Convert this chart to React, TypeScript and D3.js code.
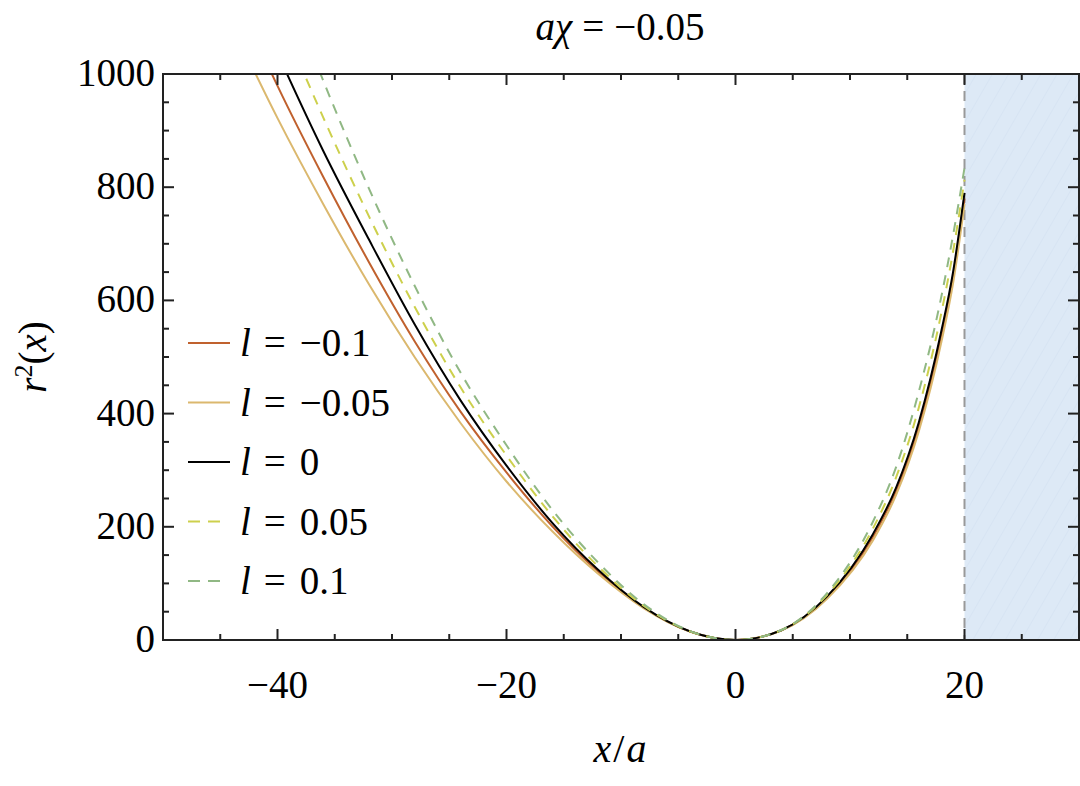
import React from 'react';
import * as d3 from 'd3';

const xs = [-44, -40, -36, -32, -28, -24, -20, -16, -12, -8, -4, 0, 4, 8, 12, 14, 16, 18, 19, 20];
const rLm10 = [1156, 979, 818, 667, 527, 403, 296, 201, 121, 57, 15.2, 0, 17, 75, 182, 262, 376, 538, 640, 780];
const rLm05 = [1088, 922, 770, 628, 499, 383, 280, 192, 117, 56, 15, 0, 16.8, 73, 176, 255, 368, 528, 630, 770];
const rL0 = [1220, 1037, 864, 707, 557, 423, 308, 207, 124, 58, 15.4, 0, 17.3, 77, 187, 268, 384, 548, 650, 790];
const rLp05 = [1316, 1112, 923, 748, 588, 446, 326, 219, 130, 60, 15.5, 0, 17.4, 80, 197, 286, 410, 580, 686, 813];
const rLp10 = [1423, 1197, 988, 797, 625, 472, 344, 230, 137, 63, 16, 0, 17.6, 83, 209, 304, 438, 609, 715, 834];

const legendValues = ['\u22120.1', '\u22120.05', '0', '0.05', '0.1'];
const xTicks = [-40, -20, 0, 20];
const yTicks = [0, 200, 400, 600, 800, 1000];
const horizon = 20;

const W = 1080;
const H = 786;
const left = 163, right = 1079, top = 74, bottom = 640;
const FONT = "'Liberation Serif', 'DejaVu Serif', serif";

const App = () => {
	const x = d3.scaleLinear().domain([-50, 30]).range([left, right]);
	const y = d3.scaleLinear().domain([0, 1000]).range([bottom, top]);

	const series = [
		{ vals: rLm10, color: '#c0612e', dash: null },
		{ vals: rLm05, color: '#dbb86e', dash: null },
		{ vals: rL0, color: '#000000', dash: null },
		{ vals: rLp05, color: '#cdd04c', dash: '10 8' },
		{ vals: rLp10, color: '#90b884', dash: '10 8' },
	];

	const line = d3.line<number>()
		.x((_, i) => x(xs[i]))
		.y((d) => y(d))
		.curve(d3.curveMonotoneX);

	const xMinor = d3.range(-50, 31, 5);
	const yMinor = d3.range(0, 1001, 50);

	return (
		<svg width={ W } height={ H }
			style={{ position: 'absolute', left: 0, top: 0, background: '#fff', fontFamily: FONT }}>
			<defs>
				<clipPath id="plot">
					<rect x={ left } y={ top } width={ right - left } height={ bottom - top }/>
				</clipPath>
				<pattern id="hatch" width="14" height="14" patternUnits="userSpaceOnUse"
					patternTransform="rotate(30)">
					<rect width="14" height="14" fill="#dde9f6"/>
					<line x1="0" y1="0" x2="0" y2="14" stroke="#d2e0f0" strokeWidth="1"/>
				</pattern>
			</defs>

			{/* excluded region */}
			<rect x={ x(horizon) } y={ top } width={ x(30) - x(horizon) } height={ bottom - top }
				fill="url(#hatch)"/>
			<line x1={ x(horizon) } x2={ x(horizon) } y1={ top } y2={ bottom }
				stroke="#999" strokeWidth={ 2 } strokeDasharray="10 7"/>

			<g clipPath="url(#plot)">
				{ series.map((s, i) => (
					<path key={ i } d={ line(s.vals) || '' } fill="none" stroke={ s.color }
						strokeWidth={ 2 } strokeDasharray={ s.dash || undefined }/>
				)) }
			</g>

			{/* frame and ticks */}
			<g stroke="#222" strokeWidth={ 2 }>
				<rect x={ left } y={ top } width={ right - left } height={ bottom - top } fill="none"/>
				{ xMinor.map((v) => {
					const len = xTicks.includes(v) ? 11 : 6;
					return (
						<g key={ 'x' + v }>
							<line x1={ x(v) } x2={ x(v) } y1={ bottom } y2={ bottom - len }/>
							<line x1={ x(v) } x2={ x(v) } y1={ top } y2={ top + len }/>
						</g>
					);
				}) }
				{ yMinor.map((v) => {
					const len = yTicks.includes(v) ? 11 : 6;
					return (
						<g key={ 'y' + v }>
							<line x1={ left } x2={ left + len } y1={ y(v) } y2={ y(v) }/>
							<line x1={ right } x2={ right - len } y1={ y(v) } y2={ y(v) }/>
						</g>
					);
				}) }
			</g>

			<g fontSize={ 39 } fill="#000">
				{ xTicks.map((v) => (
					<text key={ v } x={ x(v) } y={ 698 } textAnchor="middle">
						{ v < 0 ? '\u2212' + Math.abs(v) : String(v) }
					</text>
				)) }
				{ yTicks.map((v) => (
					<text key={ v } x={ 155 } y={ y(v) + 12 } textAnchor="end">{ v }</text>
				)) }
			</g>

			{/* title and axis labels */}
			<text x={ 620 } y={ 40 } textAnchor="middle" fontSize={ 39 }>
				<tspan fontStyle="italic">aχ</tspan>
				<tspan dx={ 10 }>=</tspan>
				<tspan dx={ 10 }>{ '\u2212' }0.05</tspan>
			</text>
			<text x={ 620 } y={ 762 } textAnchor="middle" fontSize={ 40 }>
				<tspan fontStyle="italic">x</tspan>
				<tspan dx={ 2 }>/</tspan>
				<tspan fontStyle="italic" dx={ 2 }>a</tspan>
			</text>
			<text transform={ `translate(46, ${ (top + bottom) / 2 }) rotate(-90)` } textAnchor="middle"
				fontSize={ 39 }>
				<tspan fontStyle="italic">r</tspan>
				<tspan fontSize={ 26 } dy={ -14 }>2</tspan>
				<tspan dy={ 14 }>(</tspan>
				<tspan fontStyle="italic">x</tspan>
				<tspan>)</tspan>
			</text>

			{/* legend */}
			<g fontSize={ 39 }>
				{ series.map((s, i) => {
					const ly = 343 + i * 59.5;
					return (
						<g key={ i }>
							<line x1={ 188 } x2={ s.dash ? 224 : 230 } y1={ ly } y2={ ly } stroke={ s.color }
								strokeWidth={ 2 } strokeDasharray={ s.dash ? '12 8' : undefined }/>
							<text x={ 240 } y={ ly + 13 }>
								<tspan fontStyle="italic">l</tspan>
								<tspan dx={ 13 }>=</tspan>
								<tspan dx={ 14 }>{ legendValues[i] }</tspan>
							</text>
						</g>
					);
				}) }
			</g>
		</svg>
	);
};

export default App;
